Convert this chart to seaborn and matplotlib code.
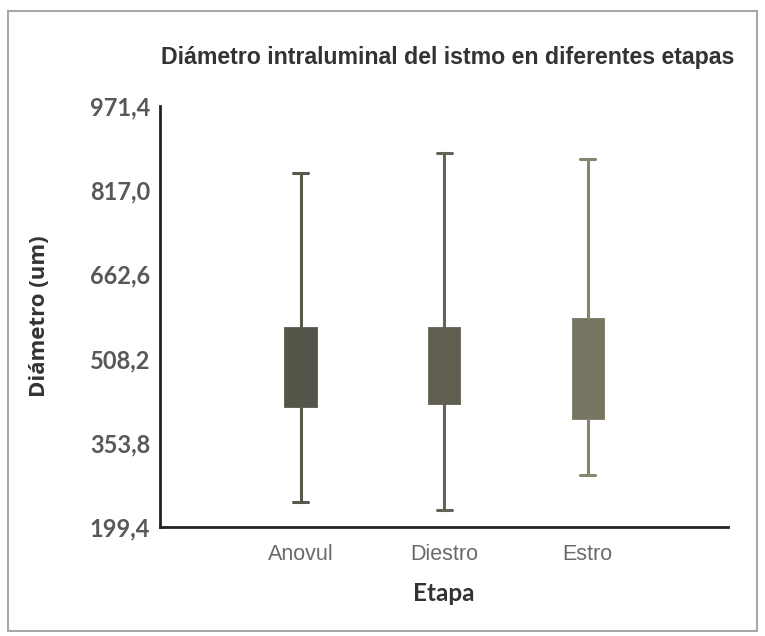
import matplotlib
matplotlib.use("Agg")
import matplotlib.pyplot as plt
from matplotlib.patches import Rectangle
import numpy as np
import pandas as pd
import seaborn as sns

# Five-number summaries per stage (min, Q1, median, Q3, max), in micrometres
etapas = ["Anovul", "Diestro", "Estro"]
minimos = [246.0, 231.0, 295.0]
q1 = [421.0, 426.0, 399.0]
medianas = [490.0, 495.0, 490.0]
q3 = [565.0, 564.0, 581.0]
maximos = [848.0, 885.0, 874.0]

y_ticks = [199.4, 353.8, 508.2, 662.6, 817.0, 971.4]
y_tick_labels = ["199,4", "353,8", "508,2", "662,6", "817,0", "971,4"]

box_colors = ["#55554a", "#5f5e51", "#777461"]
line_colors = ["#58584b", "#646356", "#86836f"]

# Long-format table: five values per stage reproduce the summary exactly
rows = []
for i, e in enumerate(etapas):
    for v in (minimos[i], q1[i], medianas[i], q3[i], maximos[i]):
        rows.append({"Etapa": e, "Diametro": v})
df = pd.DataFrame(rows)

sns.set_theme(style="white")
plt.rcParams["font.family"] = ["Lato", "DejaVu Sans"]

fig = plt.figure(figsize=(7.65, 6.36), dpi=100)
ax = fig.add_axes([0.209, 0.1714, 0.743, 0.6619])

sns.boxplot(data=df, x="Etapa", y="Diametro", hue="Etapa", order=etapas,
            hue_order=etapas, palette=box_colors, whis=(0, 100), width=0.21,
            dodge=False, legend=False, linewidth=2, ax=ax)

for i, cont in enumerate(ax.containers):
    c = line_colors[i]
    for b in cont.boxes:
        b.set_facecolor(box_colors[i])
        b.set_edgecolor(box_colors[i])
    for ln in list(cont.whiskers) + list(cont.caps):
        ln.set_color(c)
        ln.set_linewidth(2.2)
    for ln in cont.medians:
        ln.set_color(box_colors[i])

ax.set_ylim(199.4, 971.4)
ax.set_xlim(-0.98, 2.98)
ax.set_yticks(y_ticks)
ax.set_yticklabels(y_tick_labels)
ax.set_xticks([0, 1, 2, 2.98])
ax.set_xticklabels(etapas + [""])

for s in ("top", "right"):
    ax.spines[s].set_visible(False)
for s in ("left", "bottom"):
    ax.spines[s].set_color("#222222")
    ax.spines[s].set_linewidth(2)

ax.tick_params(axis="both", which="both", direction="out", length=4,
               width=2, color="#222222")
ax.tick_params(axis="y", pad=3)
ax.tick_params(axis="x", pad=8)

for t in ax.get_yticklabels():
    t.set_fontsize(17)
    t.set_fontweight("bold")
    t.set_color("#585858")
for t in ax.get_xticklabels():
    t.set_fontsize(15.5)
    t.set_family(["Liberation Sans", "DejaVu Sans"])
    t.set_color("#6a6a6a")

ax.set_xlabel("Etapa", fontsize=17.5, fontweight="bold", color="#333333")
ax.xaxis.set_label_coords(0.5, -0.13)
ax.set_ylabel("Diámetro (um)", fontsize=16, fontweight="bold",
              color="#333333", family=["Open Sans", "DejaVu Sans"])
ax.yaxis.set_label_coords(-0.194, 0.5)

fig.text(0.585, 0.91, "Diámetro intraluminal del istmo en diferentes etapas",
         ha="center", va="center", fontsize=16.7, fontweight="bold",
         color="#333333", family=["Liberation Sans", "DejaVu Sans"])

fig.patches.append(Rectangle((0.0105, 0.0079), 0.979, 0.975,
                             transform=fig.transFigure, fill=False,
                             edgecolor="#a8a8a8", linewidth=1.5))

fig.savefig("out.png", dpi=100)
